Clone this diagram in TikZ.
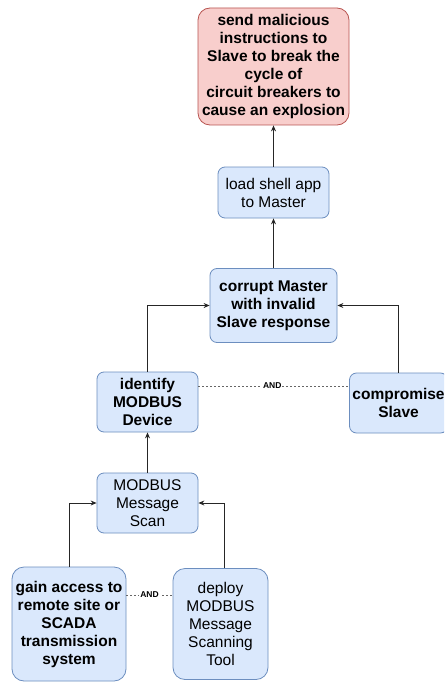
\documentclass[tikz,border=0pt]{standalone}
\usepackage{fontspec}
\setmainfont{Liberation Sans}
\usetikzlibrary{arrows.meta}
\definecolor{bfill}{HTML}{DAE8FC}
\definecolor{bdraw}{HTML}{6C8EBF}
\definecolor{rfill}{HTML}{F8CECC}
\definecolor{rdraw}{HTML}{B85450}
\tikzset{
  box/.style={draw=bdraw, fill=bfill, rounded corners=7pt, line width=0.8pt, align=center, inner sep=0pt,
    font=\fontsize{15.5}{18}\selectfont},
  redbox/.style={box, draw=rdraw, fill=rfill, rounded corners=12pt},
  conn/.style={draw=black!85, line width=0.8pt, -{Stealth[length=6pt,width=5pt]}},
  andline/.style={draw=black!60, line width=0.6pt, dash pattern=on 2pt off 2pt},
  andlab/.style={fill=white, inner sep=1pt, font=\fontsize{8.5}{9}\selectfont\bfseries},
}
\begin{document}
\begin{tikzpicture}[x=1pt,y=-1pt]
\useasboundingbox (0,0) rectangle (444,682);
\clip (0,0) rectangle (444,682);
\fill[white] (0,0) rectangle (444,682);
\node[redbox, minimum width=151pt, minimum height=117pt] (top) at (273.5,66.5)
  {\bfseries send malicious\\\bfseries instructions to\\\bfseries Slave to break the\\\bfseries cycle of\\\bfseries circuit breakers to\\\bfseries cause an explosion};
\node[box, minimum width=111pt, minimum height=51pt] (load) at (273.5,192.5) {load shell app\\to Master};
\node[box, minimum width=127pt, minimum height=74pt] (corrupt) at (273.5,305.5)
  {\bfseries corrupt Master\\\bfseries with invalid\\\bfseries Slave response};
\node[box, minimum width=101pt, minimum height=60pt] (ident) at (147.5,402)
  {\bfseries identify\\\bfseries MODBUS\\\bfseries Device};
\node[box, minimum width=98pt, minimum height=60pt, text width=98pt] (comp) at (398.5,403)
  {\bfseries compromise\\\bfseries Slave};
\node[box, minimum width=101pt, minimum height=60pt] (scan) at (147.5,503)
  {MODBUS\\Message\\Scan};
\node[box, minimum width=114pt, minimum height=114pt, rounded corners=12pt] (gain) at (69,624)
  {\bfseries gain access to\\\bfseries remote site or\\\bfseries SCADA\\\bfseries transmission\\\bfseries system};
\node[box, minimum width=95pt, minimum height=111pt, rounded corners=12pt] (deploy) at (220.5,624)
  {deploy\\MODBUS\\Message\\Scanning\\Tool};
% connectors
\draw[conn] (load.north) -- (top.south);
\draw[conn] (corrupt.north) -- (load.south);
\draw[conn] (ident.north) |- (corrupt.west);
\draw[conn] (comp.north) |- (corrupt.east);
\draw[conn] (scan.north) -- (ident.south);
\draw[conn] (gain.north) |- (scan.west);
\draw[conn] (deploy.north -| 224,0) |- (scan.east);
% AND links
\draw[andline] (ident.east |- 0,386) -- node[andlab, pos=0.49] {AND} (comp.west |- 0,386);
\draw[andline] (gain.east |- 0,595) -- node[andlab, pos=0.5] {AND} (deploy.west |- 0,595);
\end{tikzpicture}
\end{document}
